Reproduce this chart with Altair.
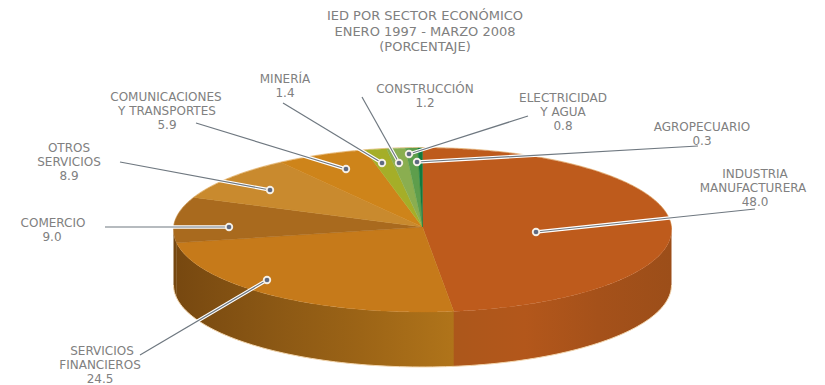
import altair as alt
import numpy as np
import pandas as pd

# ---- chart values (clockwise from 12 o'clock) ----
sectors = ["INDUSTRIA MANUFACTURERA", "SERVICIOS FINANCIEROS", "COMERCIO", "OTROS SERVICIOS",
           "COMUNICACIONES Y TRANSPORTES", "MINERÍA", "CONSTRUCCIÓN", "ELECTRICIDAD Y AGUA", "AGROPECUARIO"]
shares = [48.0, 24.5, 9.0, 8.9, 5.9, 1.4, 1.2, 0.8, 0.3]
top_colors = ["#BE5B1C", "#C67A1A", "#A96A1E", "#C98A2E", "#CE841A", "#A5AE28", "#8AAE50", "#5E9E4C", "#127A3D"]
wall_stops = [["#AC571B", "#B3571B", "#A5511A", "#9C4E19"],
              ["#774810", "#8A5714", "#9C6416", "#B0741A"],
              ["#744610", "#774810"],
              ["#000000", "#000000"]]

title_lines = ["IED POR SECTOR ECONÓMICO", "ENERO 1997 - MARZO 2008", "(PORCENTAJE)"]

# ---- layout of the annotations, in picture pixels ----
labels = [
    ("COMUNICACIONES", 166, 97), ("Y TRANSPORTES", 167, 111), ("5.9", 167, 125),
    ("OTROS", 69, 148), ("SERVICIOS", 69, 162), ("8.9", 69, 176),
    ("COMERCIO", 53, 223), ("9.0", 52, 237),
    ("MINERÍA", 285, 79), ("1.4", 285, 93),
    ("CONSTRUCCIÓN", 425, 89), ("1.2", 425, 103),
    ("ELECTRICIDAD", 563, 98), ("Y AGUA", 563, 112), ("0.8", 563, 126),
    ("AGROPECUARIO", 702, 127), ("0.3", 702, 141),
    ("INDUSTRIA", 755, 174), ("MANUFACTURERA", 753, 188), ("48.0", 755, 202),
    ("SERVICIOS", 102, 351), ("FINANCIEROS", 100, 365), ("24.5", 100, 379),
]
leaders = [
    (196, 123, 346, 169), (120, 162, 270, 190), (105, 227, 229, 227),
    (283, 103, 382, 163), (362, 97, 399, 163), (528, 116, 409, 154),
    (698, 146, 417, 162), (755, 209, 536, 232), (140, 355, 267, 280),
]
CX, CY, RX, RY, APEX_Y, WALL = 422.5, 230, 249, 82, 227, 55
W, H = 809, 377

x_s = alt.Scale(domain=[8, 8 + W], nice=False, zero=False)
y_s = alt.Scale(domain=[8 + H, 8], nice=False, zero=False)
X = alt.X("x:Q", scale=x_s, axis=None)
Y = alt.Y("y:Q", scale=y_s, axis=None)


def edge(deg):
    t = np.radians(deg)
    return CX + RX * np.sin(t), CY - RY * np.cos(t)


total = sum(shares)
ends = np.cumsum(shares) / total * 360
starts = np.r_[0, ends[:-1]]
layers = []

# side wall
for s, e, stops in zip(starts, ends, wall_stops):
    a, b = max(s, 90), min(e + 0.4, 270)
    if a >= b:
        continue
    px, py = edge(np.linspace(a, b, 80))
    df = pd.DataFrame({"x": px, "y": py, "y2": py + WALL}).sort_values("x")
    grad = alt.Gradient(gradient="linear", x1=0, x2=1, y1=0, y2=0,
                        stops=[alt.GradientStop(offset=i / (len(stops) - 1), color=c)
                               for i, c in enumerate(stops)])
    layers.append(alt.Chart(df).mark_area(fill=grad, orient="vertical").encode(x=X, y=Y, y2="y2:Q"))

# pale rim under the wall and behind the top
bx, by = edge(np.linspace(90, 270, 120))
layers.append(alt.Chart(pd.DataFrame({"x": bx, "y": by + WALL, "i": range(120)}))
              .mark_line(stroke="#F3D6AE", strokeWidth=1).encode(x=X, y=Y, order="i:Q"))
rx_, ry_ = edge(np.linspace(-90, 90, 120))
layers.append(alt.Chart(pd.DataFrame({"x": rx_, "y": ry_ - 0.5, "i": range(120)}))
              .mark_line(stroke="#EFCB98", strokeWidth=1).encode(x=X, y=Y, order="i:Q"))

# top wedges
for s, e, col in zip(starts, ends, top_colors):
    n = max(3, int(e - s) * 2)
    px, py = edge(np.linspace(s, e, n))
    df = pd.DataFrame({"x": np.r_[CX, px, CX], "y": np.r_[APEX_Y, py, APEX_Y]})
    df["i"] = range(len(df))
    layers.append(alt.Chart(df).mark_line(fill=col, stroke=col, strokeWidth=0.4, interpolate="linear")
                  .encode(x=X, y=Y, order="i:Q"))

# leaders
ld = pd.DataFrame(leaders, columns=["x", "y", "x2", "y2"])
base = alt.Chart(ld).encode(x=X, y=Y, x2="x2:Q", y2="y2:Q")
layers.append(base.mark_rule(stroke="#FFFFFF", strokeWidth=3.4))
layers.append(base.mark_rule(stroke="#6F7880", strokeWidth=1.2))
dots = pd.DataFrame({"x": ld["x2"], "y": ld["y2"]})
layers.append(alt.Chart(dots).mark_circle(color="#F4EFE6", opacity=1, size=70).encode(x=X, y=Y))
layers.append(alt.Chart(dots).mark_circle(color="#5F6A82", opacity=1, size=22).encode(x=X, y=Y))

# text
FONT = "DejaVu Sans"
lab = pd.DataFrame(labels, columns=["t", "x", "y"])
layers.append(alt.Chart(lab).mark_text(font=FONT, fontSize=12, color="#808080", align="center", baseline="middle")
              .encode(x=X, y=Y, text="t:N"))
tt = pd.DataFrame({"t": title_lines, "x": [425, 425, 425], "y": [16, 31.5, 47]})
layers.append(alt.Chart(tt).mark_text(font=FONT, fontSize=13, color="#808080", align="center", baseline="middle")
              .encode(x=X, y=Y, text="t:N"))

chart = alt.layer(*layers).properties(
    width=W, height=H, padding=0, autosize=alt.AutoSizeParams(type="none")
).configure_view(stroke=None)

chart.save("out.html", embed_options={"renderer": "svg", "actions": False})
